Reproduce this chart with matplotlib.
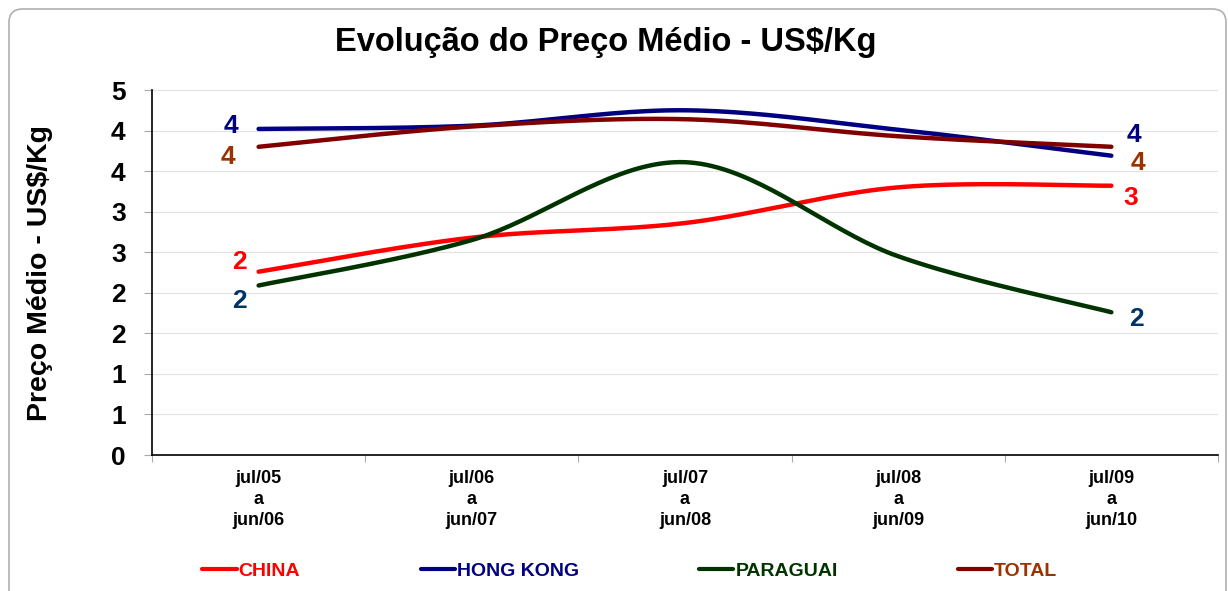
import numpy as np
import matplotlib
matplotlib.use("Agg")
import matplotlib.pyplot as plt
from matplotlib.lines import Line2D
from matplotlib.patches import FancyBboxPatch

plt.rcParams['font.family'] = ['Liberation Sans', 'DejaVu Sans']

categories = ["jul/05\na\njun/06", "jul/06\na\njun/07", "jul/07\na\njun/08",
              "jul/08\na\njun/09", "jul/09\na\njun/10"]
china = [2.26, 2.68, 2.86, 3.30, 3.32]
hong_kong = [4.02, 4.06, 4.25, 4.01, 3.69]
paraguai = [2.09, 2.65, 3.61, 2.45, 1.76]
total = [3.80, 4.05, 4.14, 3.93, 3.80]
y_ticks = [0, 0.5, 1.0, 1.5, 2.0, 2.5, 3.0, 3.5, 4.0, 4.5]


def smooth(xs, ys, n=40):
    # Excel-like smoothed line: cubic Bezier segments with Catmull-Rom tangents
    xs = np.asarray(xs, float)
    ys = np.asarray(ys, float)
    px = np.concatenate([[xs[0]], xs, [xs[-1]]])
    py = np.concatenate([[ys[0]], ys, [ys[-1]]])
    outx, outy = [], []
    t = np.linspace(0, 1, n)
    for i in range(1, len(xs)):
        p0 = np.array([px[i], py[i]])
        p3 = np.array([px[i + 1], py[i + 1]])
        c1 = p0 + (np.array([px[i + 1], py[i + 1]]) - np.array([px[i - 1], py[i - 1]])) / 6
        c2 = p3 - (np.array([px[i + 2], py[i + 2]]) - np.array([px[i], py[i]])) / 6
        b = ((1 - t) ** 3)[:, None] * p0 + (3 * (1 - t) ** 2 * t)[:, None] * c1 \
            + (3 * (1 - t) * t ** 2)[:, None] * c2 + (t ** 3)[:, None] * p3
        outx.extend(b[:, 0])
        outy.extend(b[:, 1])
    return outx, outy


fig = plt.figure(figsize=(12.28, 5.91), dpi=100)
ax = fig.add_axes([0.1238, 0.2301, 0.868, 0.6176])

x = np.arange(len(categories))
series = [
    ("CHINA", china, "#ff0000", "#ff0000", "#ff0000"),
    ("HONG KONG", hong_kong, "#000080", "#000080", "#000080"),
    ("PARAGUAI", paraguai, "#003300", "#003366", "#003300"),
    ("TOTAL", total, "#800000", "#993300", "#993300"),
]
for name, vals, col, lab_col, leg_col in series:
    sx, sy = smooth(x, vals)
    ax.plot(sx, sy, color=col, lw=3.2, solid_capstyle='round', zorder=3)

# end-point data labels (offsets in points)
label_offsets = {
    "CHINA": ((-14, 7), (14, -9)),
    "HONG KONG": ((-20, 2), (16, 15)),
    "PARAGUAI": ((-14, -11), (18, -5)),
    "TOTAL": ((-22, -7), (19, -12)),
}
for name, vals, col, lab_col, leg_col in series:
    first, last = label_offsets[name]
    for idx, off in ((0, first), (len(vals) - 1, last)):
        ax.annotate("%.0f" % vals[idx], (x[idx], vals[idx]), xytext=off,
                    textcoords='offset points', ha='center', va='center',
                    fontsize=19, fontweight='bold', color=lab_col, zorder=4)

ax.set_xlim(-0.5, len(categories) - 0.5)
ax.set_ylim(0, 4.5)
ax.set_yticks(y_ticks)
ax.set_yticklabels([str(int(np.floor(v + 0.5))) for v in y_ticks],
                   fontsize=19, fontweight='bold')
ax.set_xticks(x)
ax.set_xticklabels(categories, fontsize=13, fontweight='bold', linespacing=1.3)
ax.set_xticks(np.arange(len(categories) + 1) - 0.5, minor=True)
ax.tick_params(axis='x', which='major', length=0, pad=11)
ax.tick_params(axis='x', which='minor', length=5, color='#aaaaaa', width=0.8)
ax.tick_params(axis='y', length=6, color='#aaaaaa', width=0.8, pad=13)
ax.grid(axis='y', color='#e2e2e2', lw=0.8, zorder=0)
for s in ('top', 'right'):
    ax.spines[s].set_visible(False)
for s in ('left', 'bottom'):
    ax.spines[s].set_color('black')
    ax.spines[s].set_linewidth(1.2)

ax.set_ylabel("Preço Médio - US$/Kg", fontsize=20.5, fontweight='bold')
ax.yaxis.set_label_coords(-0.093, 0.5)

fig.text(0.493, 0.928, "Evolução do Preço Médio - US$/Kg", ha='center', va='center',
         fontsize=23.5, fontweight='bold')

handles = [Line2D([0], [0], color=c, lw=3, solid_capstyle='round') for _, _, c, _, _ in series]
leg = fig.legend(handles, [s[0] for s in series], loc='center', ncol=4,
                 bbox_to_anchor=(0.513, 0.034), frameon=False, handlelength=1.75,
                 handletextpad=0.1, columnspacing=6.2,
                 prop={'weight': 'bold', 'size': 14})
for t, s in zip(leg.get_texts(), series):
    t.set_color(s[4])

# rounded chart border (bottom runs past the image edge)
border = FancyBboxPatch((9 / 1228, -0.05), (1226 - 9) / 1228, (591 - 9) / 591 + 0.05,
                        boxstyle="round,pad=0,rounding_size=0.011",
                        transform=fig.transFigure, fill=False, ec='#b0b0b0', lw=1.2,
                        mutation_aspect=1228 / 591)
fig.patches.append(border)

fig.savefig("out.png", dpi=100)
